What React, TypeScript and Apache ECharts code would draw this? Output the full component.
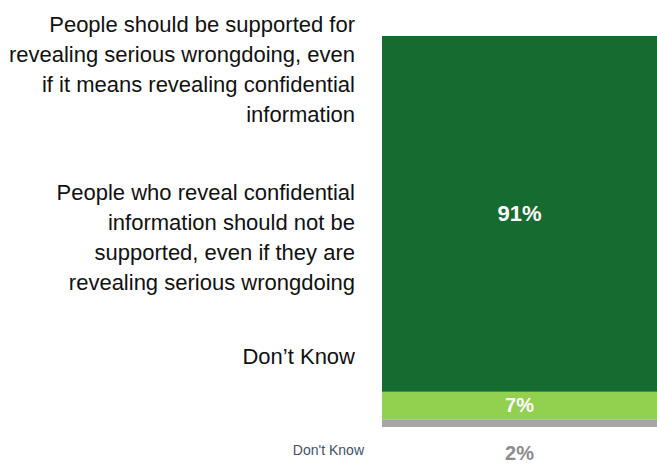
import React, { useEffect, useRef } from "react";
import * as echarts from "echarts";

const categories = ["Responses"];
const seriesNames = ["Don't Know", "Should not be supported", "Should be supported"];
const seriesValues = [2, 7, 91];
const seriesColors = ["#A6A6A6", "#92D050", "#166B30"];
const answerLabels = [
  "People should be supported for\nrevealing serious wrongdoing, even\nif it means revealing confidential\ninformation",
  "People who reveal confidential\ninformation should not be\nsupported, even if they are\nrevealing serious wrongdoing",
  "Don\u2019t Know",
];
const smallLabel = "Don't Know";

export default function App() {
  const ref = useRef<HTMLDivElement>(null);
  useEffect(() => {
    document.body.style.margin = "0";
    const chart = echarts.init(ref.current!, null, { renderer: "svg", width: 657, height: 466 });
    const labelTops = [9, 177, 341];
    chart.setOption({
      animation: false,
      grid: { left: 382, right: 0, top: 36, bottom: 39, containLabel: false, outerBoundsMode: "none" },
      xAxis: { type: "category", data: categories, show: false, boundaryGap: true },
      yAxis: { type: "value", min: 0, max: 100, show: false },
      series: seriesValues.map((v, i) => ({
        name: seriesNames[i],
        type: "bar",
        stack: "total",
        barCategoryGap: "0%",
        clip: false,
        data: [v],
        itemStyle: { color: seriesColors[i] },
        label: {
          show: true,
          position: i === 0 ? "bottom" : "inside",
          distance: 16,
          formatter: "{c}%",
          color: i === 0 ? "#8C8C8C" : "#FFFFFF",
          fontFamily: "Liberation Sans, Arial, sans-serif",
          fontWeight: "bold",
          fontSize: i === 2 ? 22 : 20,
        },
      })),
      graphic: [
        ...answerLabels.map((t, i) => ({
          type: "text",
          x: 355,
          y: labelTops[i],
          style: {
            text: t,
            align: "right",
            verticalAlign: "top",
            fontFamily: "Liberation Sans, Arial, sans-serif",
            fontSize: 22,
            lineHeight: 30,
            fill: "#111111",
          },
        })),
        {
          type: "text",
          x: 364,
          y: 450,
          style: {
            text: smallLabel,
            align: "right",
            verticalAlign: "middle",
            fontFamily: "Liberation Sans, Arial, sans-serif",
            fontSize: 14,
            fill: "#3D5266",
          },
        },
      ],
    });
    return () => chart.dispose();
  }, []);
  return <div ref={ref} style={{ position: "absolute", left: 0, top: 0, width: 657, height: 466 }} />;
}
